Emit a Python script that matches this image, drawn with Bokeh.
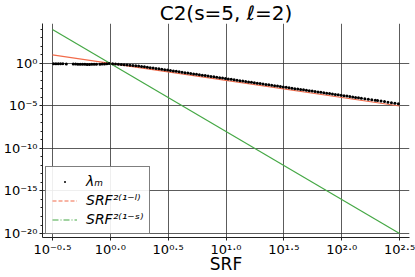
from bokeh.plotting import figure
from bokeh.models import Range1d, FixedTicker, CustomJSTickFormatter, Legend, LegendItem, ColumnDataSource
from bokeh.embed import file_html
from bokeh.resources import INLINE

# ---- data (log10 values) ----
log_srf = [-0.49, -0.47, -0.45, -0.43, -0.41, -0.38, -0.32, -0.30, -0.28, -0.26, -0.24, -0.22,
           -0.20, -0.18, -0.16, -0.14, -0.12, -0.09, -0.07, -0.05, -0.03, -0.01,
           0.02, 0.045, 0.07, 0.095, 0.12, 0.145, 0.17, 0.195, 0.22, 0.245, 0.27, 0.295,
           0.32, 0.345, 0.37, 0.395, 0.42, 0.445, 0.47, 0.495, 0.52, 0.545, 0.57, 0.595,
           0.62, 0.645, 0.67, 0.695, 0.72, 0.745, 0.77, 0.795, 0.82, 0.845, 0.87, 0.895,
           0.92, 0.945, 0.97, 0.995, 1.02, 1.045, 1.07, 1.095, 1.12, 1.145, 1.17, 1.195,
           1.22, 1.245, 1.27, 1.295, 1.32, 1.345, 1.37, 1.395, 1.42, 1.445, 1.47, 1.495,
           1.52, 1.545, 1.57, 1.595, 1.62, 1.645, 1.67, 1.695, 1.72, 1.745, 1.77, 1.795,
           1.82, 1.845, 1.87, 1.895, 1.92, 1.945, 1.97, 1.995, 2.02, 2.045, 2.07, 2.095,
           2.12, 2.145, 2.17, 2.20, 2.23, 2.26, 2.29, 2.31, 2.34, 2.37, 2.40, 2.43, 2.46, 2.49]
log_lam = [-0.02, -0.03, -0.02, -0.04, -0.03, -0.05, -0.06, -0.07, -0.08, -0.09, -0.10, -0.10,
           -0.11, -0.11, -0.10, -0.10, -0.09, -0.08, -0.07, -0.05, -0.03, -0.01,
           -0.02, -0.05, -0.08, -0.11, -0.14, -0.17, -0.20, -0.23, -0.27, -0.31, -0.35, -0.40,
           -0.44, -0.49, -0.54, -0.59, -0.63, -0.68, -0.73, -0.78, -0.83, -0.88, -0.93, -0.98,
           -1.03, -1.08, -1.13, -1.18, -1.23, -1.28, -1.33, -1.38, -1.43, -1.48, -1.53, -1.57,
           -1.62, -1.67, -1.72, -1.77, -1.82, -1.87, -1.92, -1.97, -2.02, -2.07, -2.12, -2.17,
           -2.22, -2.27, -2.32, -2.37, -2.41, -2.46, -2.51, -2.56, -2.61, -2.66, -2.71, -2.76,
           -2.81, -2.86, -2.91, -2.96, -3.01, -3.06, -3.10, -3.15, -3.20, -3.25, -3.30, -3.35,
           -3.40, -3.45, -3.50, -3.54, -3.59, -3.64, -3.69, -3.74, -3.79, -3.84, -3.89, -3.94,
           -3.99, -4.04, -4.09, -4.15, -4.21, -4.26, -4.32, -4.36, -4.42, -4.48, -4.55, -4.61, -4.67, -4.73]

line_log_srf = [-0.5, 2.5]
line_log_ell = [1.0, -5.0]    # SRF^(2(1-l))
line_log_s = [4.0, -20.0]     # SRF^(2(1-s))

x_tick_exps = [-0.5, 0.0, 0.5, 1.0, 1.5, 2.0, 2.5]
y_tick_exps = [-20, -15, -10, -5, 0]
y_minor_exps = list(range(-20, 5))

labels = ["λₘ", "SRF²⁽¹⁻ˡ⁾", "SRF²⁽¹⁻ˢ⁾"]

ORANGE = "#f26b4a"
GREEN = "#45a845"
FONT = "DejaVu Sans"

pts = ColumnDataSource(dict(x=[10 ** v for v in log_srf], y=[10 ** v for v in log_lam]))
lines = ColumnDataSource(dict(x=[10 ** v for v in line_log_srf],
                              yl=[10 ** v for v in line_log_ell],
                              ys=[10 ** v for v in line_log_s]))

p = figure(width=415, height=277, x_axis_type="log", y_axis_type="log",
           x_range=Range1d(10 ** -0.586, 10 ** 2.586), y_range=Range1d(10 ** -20.47, 10 ** 4.7),
           output_backend="svg", toolbar_location=None, title="C2(s=5, ℓ=2)",
           min_border_left=39, min_border_right=6, min_border_bottom=40, min_border_top=0)

p.outline_line_color = None
p.background_fill_color = "white"

r_or = p.line("x", "yl", source=lines, line_color=ORANGE, line_width=1.2)
r_gr = p.line("x", "ys", source=lines, line_color=GREEN, line_width=1.2)
r_pts = p.scatter("x", "y", source=pts, size=3, color="black", line_width=0)
# legend proxies (dashed, as in the reference legend)
r_or_leg = p.line("x", "yl", source=lines, line_color=ORANGE, line_width=1.2, line_dash="4 2", visible=False)
r_gr_leg = p.line("x", "ys", source=lines, line_color=GREEN, line_width=1.2, line_dash="6 2 1 2", visible=False)

fmt_code = """
const sup = {"0":"⁰","1":"¹","2":"²","3":"³","4":"⁴","5":"⁵","6":"⁶","7":"⁷","8":"⁸","9":"⁹","-":"⁻",".":"·"};
const e = Math.log10(tick);
const s = e.toFixed(digits);
return "10" + Array.from(s).map(c => sup[c]).join("");
"""

p.xaxis.ticker = FixedTicker(ticks=[10 ** e for e in x_tick_exps], minor_ticks=[])
p.xaxis.formatter = CustomJSTickFormatter(code=fmt_code, args=dict(digits=1))
p.yaxis.ticker = FixedTicker(ticks=[10.0 ** e for e in y_tick_exps], minor_ticks=[10.0 ** e for e in y_minor_exps])
p.yaxis.formatter = CustomJSTickFormatter(code=fmt_code, args=dict(digits=0))

for ax in (p.xaxis[0], p.yaxis[0]):
    ax.axis_line_color = "#222222"
    ax.axis_line_width = 1
    ax.major_tick_line_color = "#222222"
    ax.minor_tick_line_color = "#222222"
    ax.major_tick_in = 0
    ax.major_tick_out = 3
    ax.minor_tick_in = 0
    ax.minor_tick_out = 2
    ax.major_label_text_font = FONT
    ax.major_label_text_font_size = "13px"
    ax.major_label_text_color = "black"
    ax.major_label_standoff = 2

p.xaxis.major_label_standoff = 1
p.xaxis.axis_label = "SRF"
p.xaxis.axis_label_text_font = FONT
p.xaxis.axis_label_text_font_size = "17px"
p.xaxis.axis_label_text_font_style = "normal"
p.xaxis.axis_label_text_color = "black"
p.xaxis.axis_label_standoff = -6

p.grid.grid_line_color = "#333333"
p.grid.grid_line_alpha = 0.8
p.grid.grid_line_width = 1

p.title.text_font = FONT
p.title.text_font_size = "20px"
p.title.text_font_style = "normal"
p.title.text_color = "black"
p.title.align = "center"
p.title.standoff = -3

legend = Legend(items=[LegendItem(label=labels[0], renderers=[r_pts]),
                       LegendItem(label=labels[1], renderers=[r_or_leg]),
                       LegendItem(label=labels[2], renderers=[r_gr_leg])],
                location="bottom_left")
legend.border_line_color = "black"
legend.border_line_width = 1
legend.background_fill_alpha = 0.9
legend.inactive_fill_alpha = 0
legend.label_text_font = FONT
legend.label_text_font_size = "14px"
legend.label_text_font_style = "italic"
legend.label_text_color = "black"
legend.glyph_width = 25
legend.glyph_height = 5
legend.label_height = 14
legend.label_standoff = 9
legend.padding = 6
legend.spacing = 3
legend.margin = 3
p.add_layout(legend)

open("out.html", "w").write(file_html(p, INLINE))
